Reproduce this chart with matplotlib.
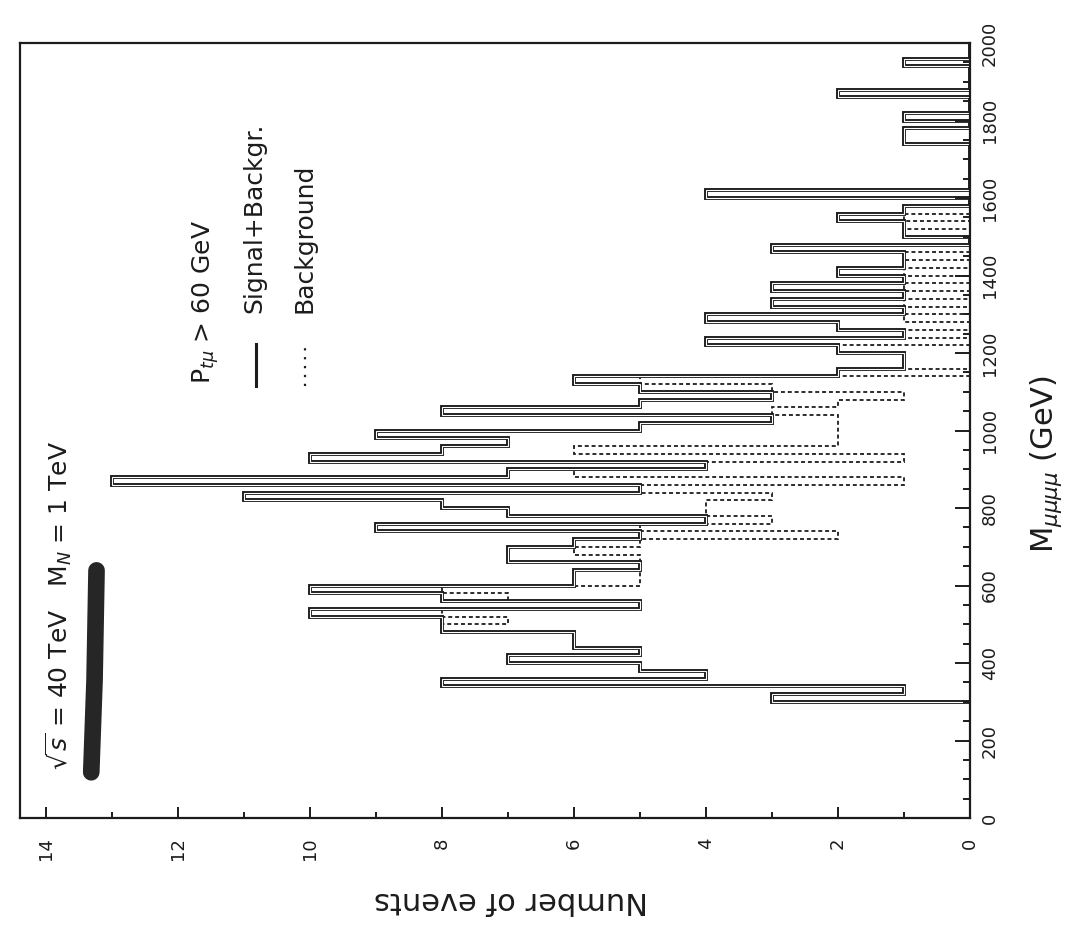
import numpy as np
import matplotlib
matplotlib.use("Agg")
import matplotlib.pyplot as plt
from matplotlib.ticker import MultipleLocator

# histogram grid: 20 GeV bins starting at 300 GeV
bin_start = 300
bin_width = 20

# Signal + background, events per bin (300 ... 2000 GeV)
signal_plus_bkg = [
    3, 1, 8, 4, 5, 7, 5, 6, 6, 8,        # 300-480
    8, 10, 5, 8, 10, 6, 6, 5, 7, 7,      # 500-680
    6, 5, 9, 4, 7, 8, 11, 5, 13, 7,      # 700-880
    4, 10, 8, 7, 9, 5, 3, 8, 5, 3,       # 900-1080
    5, 6, 2, 1, 1, 2, 4, 1, 2, 4,        # 1100-1280
    1, 3, 1, 3, 1, 2, 1, 1, 3, 0,        # 1300-1480
    1, 1, 2, 1, 0, 4, 0, 0, 0, 0,        # 1500-1680
    0, 0, 1, 1, 0, 1, 0, 0, 2, 0,        # 1700-1880
    0, 0, 1, 0, 0,                       # 1900-1980
]

# Background only, events per bin
background = [
    3, 1, 8, 4, 5, 7, 5, 6, 6, 8,
    7, 8, 5, 7, 8, 5, 5, 5, 5, 6,
    5, 2, 5, 3, 4, 4, 3, 5, 1, 6,
    4, 1, 6, 2, 2, 2, 2, 3, 2, 1,
    3, 5, 0, 1, 1, 2, 0, 1, 0, 1,
    0, 1, 0, 1, 0, 1, 0, 1, 0, 0,
    1, 0, 1, 0, 0, 0, 0, 0, 0, 0,
    0, 0, 0, 0, 0, 0, 0, 0, 0, 0,
    0, 0, 0, 0, 0,
]

ink = "#1c1c1c"
edges = bin_start + bin_width * np.arange(len(signal_plus_bkg) + 1)

W, H = 1078, 932
fig = plt.figure(figsize=(W / 100, H / 100), dpi=100)
# the page is turned: events run right-to-left, mass runs bottom-to-top
ax = fig.add_axes([20 / W, 1 - 818 / H, 950 / W, (818 - 43) / H])

ax.stairs(background, edges, orientation="horizontal", baseline=0,
          color=ink, lw=1.3, linestyle=(0, (2.2, 1.6)))
ax.stairs(signal_plus_bkg, edges, orientation="horizontal", baseline=0,
          color=ink, lw=2.8)
ax.stairs(signal_plus_bkg, edges, orientation="horizontal", baseline=0,
          color="white", lw=0.8)

ax.set_xlim(14.4, 0)
ax.set_ylim(0, 2000)

ax.yaxis.tick_right()
ax.xaxis.set_major_locator(MultipleLocator(2))
ax.xaxis.set_minor_locator(MultipleLocator(1))
ax.yaxis.set_major_locator(MultipleLocator(200))
ax.yaxis.set_minor_locator(MultipleLocator(50))
ax.tick_params(axis="x", which="both", direction="in", colors=ink,
               labelsize=13, labelrotation=90, pad=14, width=1.4)
ax.tick_params(axis="x", which="major", length=8)
ax.tick_params(axis="x", which="minor", length=4)
ax.tick_params(axis="y", which="both", direction="in", colors=ink,
               labelsize=13, labelrotation=90, pad=8, width=1.4)
ax.tick_params(axis="y", which="major", length=11)
ax.tick_params(axis="y", which="minor", length=5)
for lab in ax.get_yticklabels():
    lab.set_va("center")

for sp in ax.spines.values():
    sp.set_linewidth(1.6)
    sp.set_color(ink)

fig.text(511 / W, 1 - 900 / H, "Number of events", rotation=180,
         ha="center", va="center", fontsize=22, color=ink)
fig.text(1046 / W, 1 - 464 / H, r"M$_{\mu\mu\mu\mu}$ (GeV)", rotation=90,
         ha="center", va="center", fontsize=22, color=ink)

# annotations inside the frame
ax.text(13.82, 124, r"$\sqrt{s}$ = 40 TeV   M$_N$ = 1 TeV", rotation=90,
        ha="center", va="bottom", fontsize=18, color=ink)
# marker stroke over the energy value
ax.plot([13.32, 13.27, 13.24], [118, 356, 639], color="#262626", lw=12,
        solid_capstyle="round")

ax.text(11.59, 1121, r"P$_{t\mu}$ > 60 GeV", rotation=90,
        ha="center", va="bottom", fontsize=18, color=ink)
ax.plot([10.83, 10.83], [1116, 1224], color=ink, lw=2.2)
ax.text(10.85, 1302, "Signal+Backgr.", rotation=90,
        ha="center", va="bottom", fontsize=18, color=ink)
ax.plot([10.08, 10.08], [1116, 1224], color=ink, lw=1.6, linestyle=(0, (1, 3)))
ax.text(10.08, 1302, "Background", rotation=90,
        ha="center", va="bottom", fontsize=18, color=ink)

fig.savefig("out.png", dpi=100)
